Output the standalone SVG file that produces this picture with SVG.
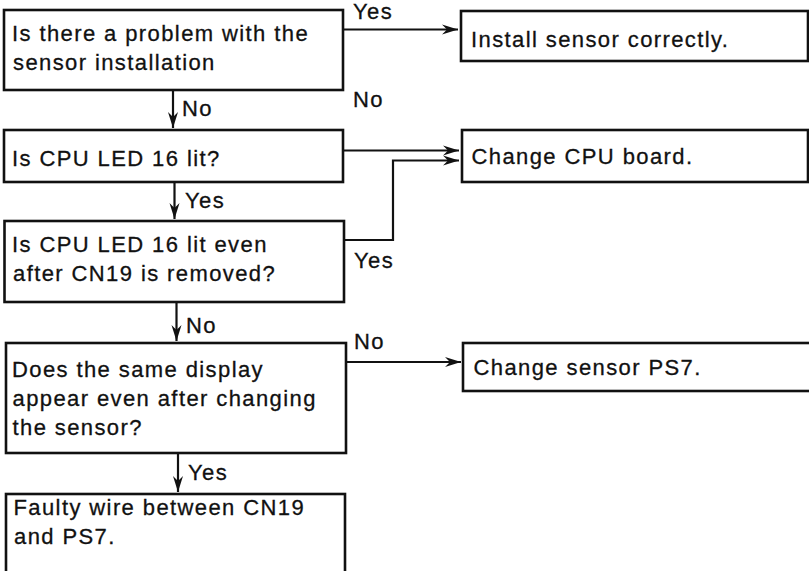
<svg xmlns="http://www.w3.org/2000/svg" width="809" height="571" viewBox="0 0 809 571">
<style>
.box{fill:#fff;stroke:#111;stroke-width:2.6}
.t{font-family:"Liberation Sans",Arial,sans-serif;font-size:22px;letter-spacing:1.4px;fill:#111;stroke:#111;stroke-width:0.3}
.c{fill:none;stroke:#111;stroke-width:2.2}
</style>
<defs>
<marker id="ah" markerUnits="userSpaceOnUse" markerWidth="20" markerHeight="14" viewBox="-17 -7 18 14" refX="0" refY="0" orient="auto">
<path d="M0,0 L-16,-5 L-11,0 L-16,5 Z" fill="#111"/>
</marker>
</defs>
<rect width="809" height="571" fill="#fff"/>
<g id="connectors">
<path class="c" d="M343,29.5 H458" marker-end="url(#ah)"/>
<path class="c" d="M173,90 V128" marker-end="url(#ah)"/>
<path class="c" d="M343,150.5 H459" marker-end="url(#ah)"/>
<path class="c" d="M344,240 H393 V160.5 H459" marker-end="url(#ah)"/>
<path class="c" d="M174.5,182 V219" marker-end="url(#ah)"/>
<path class="c" d="M176.5,302 V341" marker-end="url(#ah)"/>
<path class="c" d="M346,362 H461" marker-end="url(#ah)"/>
<path class="c" d="M178,453 V492" marker-end="url(#ah)"/>
<text class="t" x="353" y="18.5">Yes</text>
<text class="t" x="182" y="115.5">No</text>
<text class="t" x="353" y="106.5">No</text>
<text class="t" x="185" y="207.5">Yes</text>
<text class="t" x="354" y="268">Yes</text>
<text class="t" x="186" y="333">No</text>
<text class="t" x="354" y="349">No</text>
<text class="t" x="188" y="480">Yes</text>
</g>
<g id="q1">
<rect class="box" x="4" y="10" width="339" height="80"/>
<text class="t" x="12" y="41">Is there a problem with the</text>
<text class="t" x="13" y="70">sensor installation</text>
</g>
<g id="a1">
<rect class="box" x="461" y="11" width="347" height="50"/>
<text class="t" x="471" y="46.5">Install sensor correctly.</text>
</g>
<g id="q2">
<rect class="box" x="4" y="130" width="339" height="52"/>
<text class="t" x="12" y="165.5">Is CPU LED 16 lit?</text>
</g>
<g id="a2">
<rect class="box" x="462" y="130" width="346" height="52"/>
<text class="t" x="471.5" y="163.5">Change CPU board.</text>
</g>
<g id="q3">
<rect class="box" x="4.5" y="221" width="339.5" height="81"/>
<text class="t" x="12" y="251.5">Is CPU LED 16 lit even</text>
<text class="t" x="13" y="280.5">after CN19 is removed?</text>
</g>
<g id="q4">
<rect class="box" x="6" y="343" width="340" height="110"/>
<text class="t" x="12" y="376.5">Does the same display</text>
<text class="t" x="12.5" y="405.5">appear even after changing</text>
<text class="t" x="12.5" y="434.5">the sensor?</text>
</g>
<g id="a4">
<rect class="box" x="463" y="343" width="350" height="48"/>
<text class="t" x="473.5" y="375">Change sensor PS7.</text>
</g>
<g id="r5">
<rect class="box" x="6" y="494" width="339" height="90"/>
<text class="t" x="13.5" y="515">Faulty wire between CN19</text>
<text class="t" x="14" y="543.5">and PS7.</text>
</g>
</svg>
